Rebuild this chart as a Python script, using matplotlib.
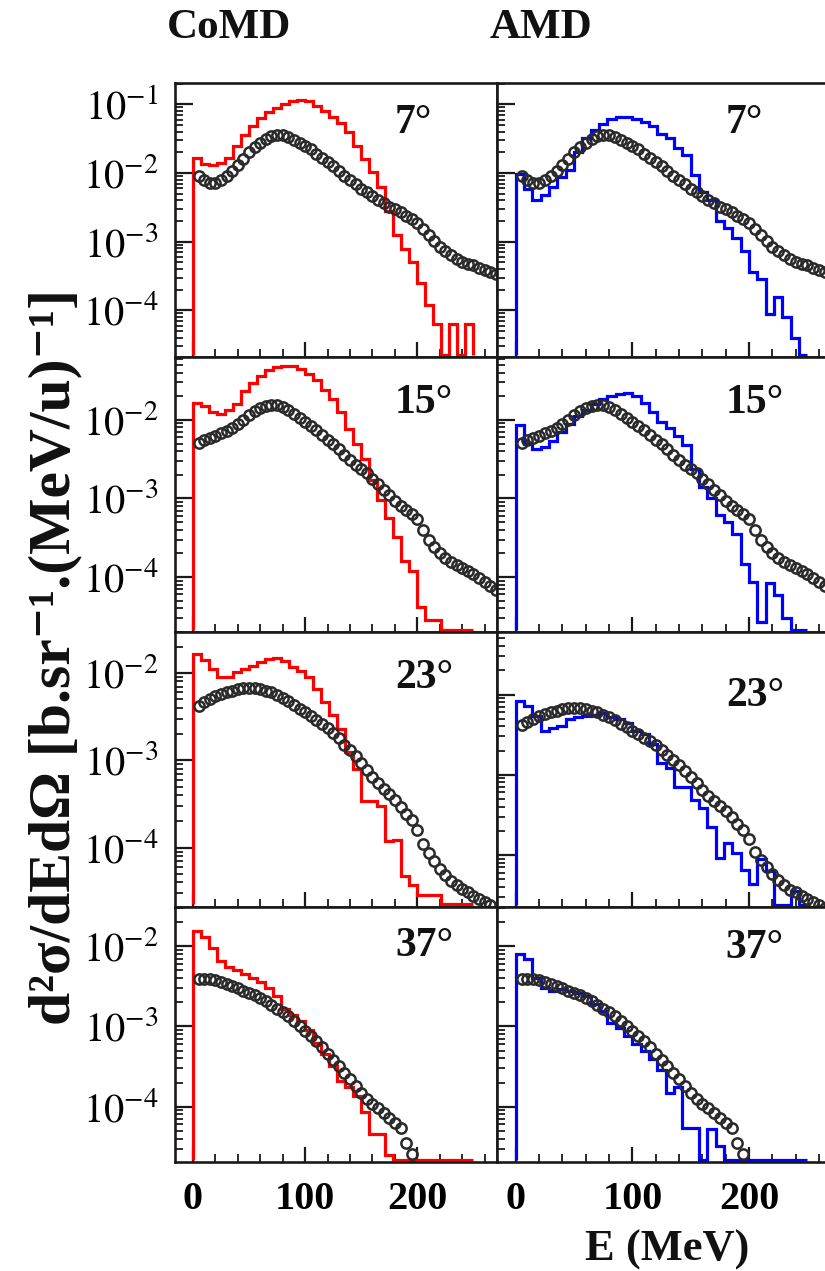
import matplotlib.pyplot as plt
import numpy as np
from matplotlib.ticker import LogLocator, MultipleLocator, FuncFormatter, NullFormatter

plt.rcParams['font.family'] = ['Liberation Serif', 'DejaVu Serif']
plt.rcParams['mathtext.fontset'] = 'stix'

# simulation histograms: 35 bins from 0 to 250 MeV
bin_edges = np.linspace(0, 250, 36)
# measured points every 5 MeV
exp_energy = np.arange(5, 275, 5)

angles = ['7°', '15°', '23°', '37°']

exp_7 = [9.1e-3, 7.9e-3, 7.2e-3, 7.1e-3, 7.9e-3, 9.1e-3, 1.07e-2, 1.32e-2, 1.62e-2, 2.0e-2,
         2.4e-2, 2.75e-2, 3.1e-2, 3.4e-2, 3.55e-2, 3.55e-2, 3.3e-2, 3.0e-2, 2.75e-2, 2.45e-2,
         2.2e-2, 1.9e-2, 1.66e-2, 1.45e-2, 1.26e-2, 1.07e-2, 9.1e-3, 7.9e-3, 6.8e-3, 5.9e-3,
         5.2e-3, 4.6e-3, 4.1e-3, 3.6e-3, 3.2e-3, 2.95e-3, 2.7e-3, 2.4e-3, 2.15e-3, 1.86e-3,
         1.55e-3, 1.26e-3, 1.02e-3, 8.3e-4, 7.2e-4, 6.3e-4, 5.6e-4, 5.1e-4, 4.8e-4, 4.5e-4,
         4.2e-4, 3.9e-4, 3.6e-4, 3.4e-4]
exp_15 = [5.1e-3, 5.5e-3, 5.9e-3, 6.3e-3, 6.8e-3, 7.2e-3, 7.9e-3, 8.9e-3, 1.0e-2, 1.15e-2,
          1.29e-2, 1.41e-2, 1.51e-2, 1.55e-2, 1.55e-2, 1.45e-2, 1.35e-2, 1.2e-2, 1.07e-2, 9.5e-3,
          8.3e-3, 7.4e-3, 6.5e-3, 5.6e-3, 4.9e-3, 4.2e-3, 3.6e-3, 3.1e-3, 2.7e-3, 2.4e-3,
          2.1e-3, 1.78e-3, 1.51e-3, 1.29e-3, 1.1e-3, 9.3e-4, 8.1e-4, 7.2e-4, 6.3e-4, 5.4e-4,
          4.0e-4, 2.95e-4, 2.4e-4, 2.0e-4, 1.74e-4, 1.55e-4, 1.41e-4, 1.29e-4, 1.2e-4, 1.1e-4,
          9.8e-5, 8.7e-5, 7.6e-5, 6.8e-5]
exp_23 = [4.2e-3, 4.6e-3, 5.0e-3, 5.4e-3, 5.75e-3, 6.0e-3, 6.3e-3, 6.6e-3, 6.8e-3, 6.8e-3,
          6.8e-3, 6.6e-3, 6.3e-3, 6.0e-3, 5.6e-3, 5.2e-3, 4.8e-3, 4.3e-3, 3.9e-3, 3.55e-3,
          3.2e-3, 2.9e-3, 2.6e-3, 2.35e-3, 2.05e-3, 1.78e-3, 1.51e-3, 1.32e-3, 1.12e-3, 9.3e-4,
          7.8e-4, 6.5e-4, 5.5e-4, 4.7e-4, 4.1e-4, 3.5e-4, 2.95e-4, 2.45e-4, 2.05e-4, 1.58e-4,
          1.1e-4, 8.7e-5, 7.1e-5, 5.75e-5, 4.9e-5, 4.2e-5, 3.7e-5, 3.4e-5, 3.1e-5, 2.8e-5,
          2.6e-5, 2.4e-5, 2.2e-5]
exp_37 = [3.9e-3, 3.9e-3, 3.9e-3, 3.8e-3, 3.6e-3, 3.4e-3, 3.2e-3, 3.0e-3, 2.8e-3, 2.6e-3,
          2.45e-3, 2.25e-3, 2.05e-3, 1.86e-3, 1.66e-3, 1.51e-3, 1.35e-3, 1.17e-3, 1.02e-3, 8.9e-4,
          7.6e-4, 6.5e-4, 5.5e-4, 4.6e-4, 3.8e-4, 3.2e-4, 2.6e-4, 2.2e-4, 1.82e-4, 1.48e-4,
          1.23e-4, 1.07e-4, 9.5e-5, 8.3e-5, 7.2e-5, 6.3e-5, 5.4e-5, 3.5e-5, 2.6e-5]

comd_7 = [1.66e-2, 1.35e-2, 1.29e-2, 1.38e-2, 1.66e-2, 2.5e-2, 3.55e-2, 4.8e-2, 6.3e-2, 7.6e-2,
          8.9e-2, 0.102, 0.112, 0.115, 0.110, 9.5e-2, 7.9e-2, 6.6e-2, 5.4e-2, 4.0e-2,
          2.5e-2, 1.58e-2, 1.05e-2, 6.3e-3, 2.8e-3, 1.26e-3, 7.9e-4, 5.0e-4, 2.5e-4, 1.2e-4,
          6.3e-5, 0, 6.3e-5, 0, 6.3e-5]
comd_15 = [1.62e-2, 1.51e-2, 1.26e-2, 1.17e-2, 1.35e-2, 1.58e-2, 2.34e-2, 2.95e-2, 3.6e-2, 4.3e-2,
           4.7e-2, 4.8e-2, 4.8e-2, 4.5e-2, 3.8e-2, 3.2e-2, 2.4e-2, 1.82e-2, 1.26e-2, 7.6e-3,
           5.0e-3, 3.2e-3, 1.74e-3, 9.5e-4, 5.6e-4, 3.2e-4, 1.58e-4, 1.2e-4, 4.2e-5, 2.8e-5,
           2.8e-5, 0, 0, 0, 0]
comd_23 = [1.66e-2, 1.41e-2, 1.12e-2, 8.9e-3, 9.1e-3, 1.02e-2, 1.12e-2, 1.2e-2, 1.35e-2, 1.45e-2,
           1.48e-2, 1.38e-2, 1.17e-2, 1.05e-2, 9.1e-3, 6.6e-3, 4.6e-3, 3.3e-3, 2.3e-3, 1.23e-3,
           7.9e-4, 3.4e-4, 3.4e-4, 3.0e-4, 1.2e-4, 1.23e-4, 4.7e-5, 3.7e-5, 2.9e-5, 2.9e-5,
           2.9e-5, 0, 0, 0, 0]
comd_37 = [1.55e-2, 1.32e-2, 9.5e-3, 6.6e-3, 5.5e-3, 5.1e-3, 4.5e-3, 4.0e-3, 3.6e-3, 3.0e-3,
           2.4e-3, 1.66e-3, 1.41e-3, 1.17e-3, 9.1e-4, 6.3e-4, 4.5e-4, 3.2e-4, 2.1e-4, 1.78e-4,
           1.35e-4, 8.7e-5, 4.5e-5, 4.5e-5, 2.5e-5, 0, 0, 0, 0, 0,
           0, 0, 0, 0, 0]

amd_7 = [9.5e-3, 5.9e-3, 4.0e-3, 4.7e-3, 6.3e-3, 8.7e-3, 1.12e-2, 2.0e-2, 3.2e-2, 4.2e-2,
         5.2e-2, 6.2e-2, 6.5e-2, 6.5e-2, 6.2e-2, 5.6e-2, 4.9e-2, 3.7e-2, 3.2e-2, 2.3e-2,
         1.82e-2, 9.3e-3, 5.2e-3, 4.0e-3, 2.0e-3, 1.58e-3, 1.12e-3, 7.4e-4, 3.6e-4, 2.9e-4,
         8.9e-5, 1.58e-4, 7.9e-5, 3.9e-5, 0]
amd_15 = [8.7e-3, 5.0e-3, 4.2e-3, 4.5e-3, 5.4e-3, 7.1e-3, 8.9e-3, 1.12e-2, 1.35e-2, 1.58e-2,
          1.82e-2, 2.0e-2, 2.14e-2, 2.2e-2, 2.04e-2, 1.66e-2, 1.26e-2, 9.5e-3, 7.8e-3, 6.2e-3,
          4.8e-3, 2.4e-3, 1.41e-3, 1.0e-3, 6.2e-4, 5.0e-4, 3.5e-4, 1.48e-4, 8.7e-5, 2.7e-5,
          8.3e-5, 5.9e-5, 3.0e-5, 0, 0]
amd_23 = [8.3e-3, 7.1e-3, 5.4e-3, 3.5e-3, 3.8e-3, 4.1e-3, 4.9e-3, 5.2e-3, 5.4e-3, 5.6e-3,
          5.9e-3, 5.2e-3, 4.9e-3, 4.4e-3, 3.55e-3, 3.2e-3, 2.4e-3, 1.41e-3, 1.2e-3, 7.1e-4,
          7.1e-4, 4.9e-4, 3.8e-4, 2.2e-4, 9.1e-5, 1.41e-4, 1.05e-4, 6.5e-5, 4.3e-5, 8.9e-5,
          6.3e-5, 0, 0, 3.5e-5, 0]
amd_37 = [8.1e-3, 6.9e-3, 4.0e-3, 3.0e-3, 2.75e-3, 2.9e-3, 2.75e-3, 2.6e-3, 2.4e-3, 1.9e-3,
          1.55e-3, 1.12e-3, 9.5e-4, 7.6e-4, 6.0e-4, 5.0e-4, 3.9e-4, 2.9e-4, 1.48e-4, 1.78e-4,
          5.4e-5, 5.4e-5, 0, 5.2e-5, 3.2e-5, 0, 0, 0, 0, 0,
          0, 0, 0, 0, 0]

exp_data = [exp_7, exp_15, exp_23, exp_37]
sim_data = [[comd_7, amd_7], [comd_15, amd_15], [comd_23, amd_23], [comd_37, amd_37]]
sim_colors = ['#ff0000', '#0000ff']

# decade exponents of the y range, per row and column
ylims = [((-4.68, -0.69), (-4.68, -0.69)),
         ((-4.70, -1.20), (-4.70, -1.20)),
         ((-4.68, -1.53), (-4.65, -1.22)),
         ((-4.69, -1.51), (-4.69, -1.51))]
label_y = [(0.854, 0.854), (0.833, 0.833), (0.833, 0.767), (0.847, 0.839)]

W, H = 825, 1271
col_x = [(175, 497), (497, 832)]
row_y = [(83, 357), (357, 632), (632, 907), (907, 1162)]

fig = plt.figure(figsize=(W / 100, H / 100), dpi=100)
ink = '#1a1a1a'

for r in range(4):
    for c in range(2):
        x0, x1 = col_x[c]
        y0, y1 = row_y[r]
        ax = fig.add_axes([x0 / W, 1 - y1 / H, (x1 - x0) / W, (y1 - y0) / H])
        ax.set_yscale('log')
        lo, hi = ylims[r][c]
        ax.set_ylim(10 ** lo, 10 ** hi)
        ax.set_xlim(-16, 271)

        # empty bins sit on the floor of the panel
        floor = 10 ** (lo + 0.03)
        vals = np.array(sim_data[r][c], dtype=float)
        vals = np.where(vals > 0, vals, floor)
        ax.stairs(vals, bin_edges, baseline=floor, color=sim_colors[c], lw=2.3, zorder=2)

        ev = exp_data[r]
        ax.plot(exp_energy[:len(ev)], ev, 'o', mfc='none', mec='#2a2a2a', ms=7.4, mew=1.8,
                zorder=3)

        ax.text(0.683, label_y[r][c], angles[r], transform=ax.transAxes, ha='left',
                va='center', fontsize=30, fontweight='bold', color='#111111')

        for sp in ax.spines.values():
            sp.set_linewidth(1.9)
            sp.set_color(ink)

        ax.set_xticks([0, 100, 200])
        ax.xaxis.set_minor_locator(MultipleLocator(20))
        ax.yaxis.set_major_locator(LogLocator(base=10, numticks=10))
        ax.yaxis.set_minor_locator(LogLocator(base=10, subs=np.arange(2, 10), numticks=20))
        ax.yaxis.set_minor_formatter(NullFormatter())
        ax.tick_params(which='both', direction='in', top=False, right=False, color=ink)
        ax.tick_params(axis='y', which='major', length=13, width=1.6, pad=12, labelsize=29)
        ax.tick_params(axis='y', which='minor', length=6, width=1.3)
        ax.tick_params(axis='x', which='major', length=11, width=1.6, pad=14, labelsize=29)
        ax.tick_params(axis='x', which='minor', length=5.5, width=1.3)

        if c == 0:
            ax.yaxis.set_major_formatter(
                FuncFormatter(lambda v, p: r'$10^{%d}$' % int(round(np.log10(v)))))
        else:
            ax.tick_params(axis='y', labelleft=False)
        if r < 3:
            ax.tick_params(axis='x', labelbottom=False)
        else:
            for lab in ax.get_xticklabels():
                lab.set_fontweight('bold')

fig.text(229 / W, 1 - 28 / H, 'CoMD', ha='center', va='center', fontsize=31,
         fontweight='bold', color='#111111')
fig.text(541 / W, 1 - 28 / H, 'AMD', ha='center', va='center', fontsize=31,
         fontweight='bold', color='#111111')
fig.text(667 / W, 1 - 1250 / H, 'E (MeV)', ha='center', va='center', fontsize=32,
         fontweight='bold', color='#111111')
fig.text(55 / W, 1 - 657 / H, 'd²σ/dEdΩ [b.sr⁻¹.(MeV/u)⁻¹]', ha='center', va='center',
         rotation=90, fontsize=43, fontweight='bold', color='#111111')

fig.savefig('out.png', dpi=100)
